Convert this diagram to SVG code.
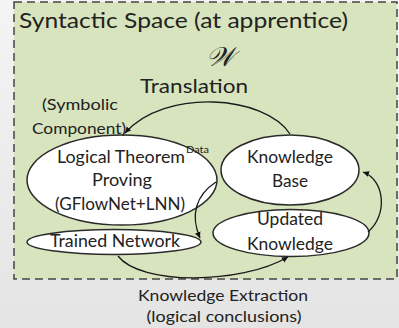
<svg xmlns="http://www.w3.org/2000/svg" width="399" height="328" viewBox="0 0 399 328">
<defs>
<linearGradient id="bg" x1="0" y1="0" x2="0" y2="1">
<stop offset="0" stop-color="#f4f4f4"/>
<stop offset="1" stop-color="#e4e4e4"/>
</linearGradient>
<marker id="ah" markerUnits="userSpaceOnUse" markerWidth="7" markerHeight="7" refX="6" refY="3.5" orient="auto">
<path d="M0,0.5 L6,3.5 L0,6.5 Z" fill="#111"/>
</marker>
</defs>
<style>
text{font-family:Lato,"Open Sans","Liberation Sans",sans-serif;fill:#222;}
.n{fill:#fff;stroke:#2a2a2a;stroke-width:1.5;}
.c{fill:none;stroke:#1a1a1a;stroke-width:1.3;marker-end:url(#ah);}
.t{font-size:17px;text-anchor:middle;}
</style>
<rect x="0" y="0" width="399" height="328" fill="url(#bg)"/>
<g id="space">
<rect x="14" y="2" width="383" height="277" fill="#d7e4bd" stroke="#444" stroke-width="1.5" stroke-dasharray="8,5"/>
<text x="19" y="28" font-size="22" textLength="329" lengthAdjust="spacingAndGlyphs">Syntactic Space (at apprentice)</text>
</g>
<g id="node-ltp">
<ellipse class="n" cx="122" cy="180" rx="95" ry="45"/>
<text class="t" x="121" y="163" textLength="128" lengthAdjust="spacingAndGlyphs">Logical Theorem</text>
<text class="t" x="122" y="186" textLength="60" lengthAdjust="spacingAndGlyphs">Proving</text>
<text class="t" x="120" y="210" textLength="130" lengthAdjust="spacingAndGlyphs">(GFlowNet+LNN)</text>
</g>
<g id="node-kb">
<ellipse class="n" cx="290" cy="170" rx="69" ry="35"/>
<text class="t" x="290" y="163" textLength="86" lengthAdjust="spacingAndGlyphs">Knowledge</text>
<text class="t" x="290" y="187" textLength="36" lengthAdjust="spacingAndGlyphs">Base</text>
</g>
<g id="node-uk">
<ellipse class="n" cx="291" cy="233" rx="78" ry="23.5"/>
<text class="t" x="290" y="225" textLength="66" lengthAdjust="spacingAndGlyphs">Updated</text>
<text class="t" x="290" y="250" textLength="86" lengthAdjust="spacingAndGlyphs">Knowledge</text>
</g>
<g id="node-tn">
<ellipse class="n" cx="114" cy="242" rx="87" ry="12.5"/>
<text class="t" x="115" y="247" textLength="130" lengthAdjust="spacingAndGlyphs">Trained Network</text>
</g>
<g id="connectors">
<path class="c" d="M290,134 C265,95 165,88 125,133"/>
<path class="c" d="M216,182 C196,195 190,215 200,238"/>
<path class="c" d="M118,256 C140,285 240,285 288,257"/>
<path class="c" d="M368,232 C388,215 385,180 363,172"/>
</g>
<g id="labels">
<text x="220" y="66" font-size="27" text-anchor="middle" font-family="DejaVu Serif,serif" font-style="italic">𝒲</text>
<text x="194" y="93" font-size="20" text-anchor="middle" textLength="108" lengthAdjust="spacingAndGlyphs">Translation</text>
<text x="42" y="110" font-size="16" textLength="76" lengthAdjust="spacingAndGlyphs">(Symbolic</text>
<text x="32" y="134" font-size="16" textLength="94" lengthAdjust="spacingAndGlyphs">Component)</text>
<text x="186" y="153" font-size="10" textLength="23" lengthAdjust="spacingAndGlyphs">Data</text>
<text x="223" y="301" font-size="16" text-anchor="middle" textLength="170" lengthAdjust="spacingAndGlyphs">Knowledge Extraction</text>
<text x="224" y="322" font-size="16" text-anchor="middle" textLength="155" lengthAdjust="spacingAndGlyphs">(logical conclusions)</text>
</g>
</svg>
